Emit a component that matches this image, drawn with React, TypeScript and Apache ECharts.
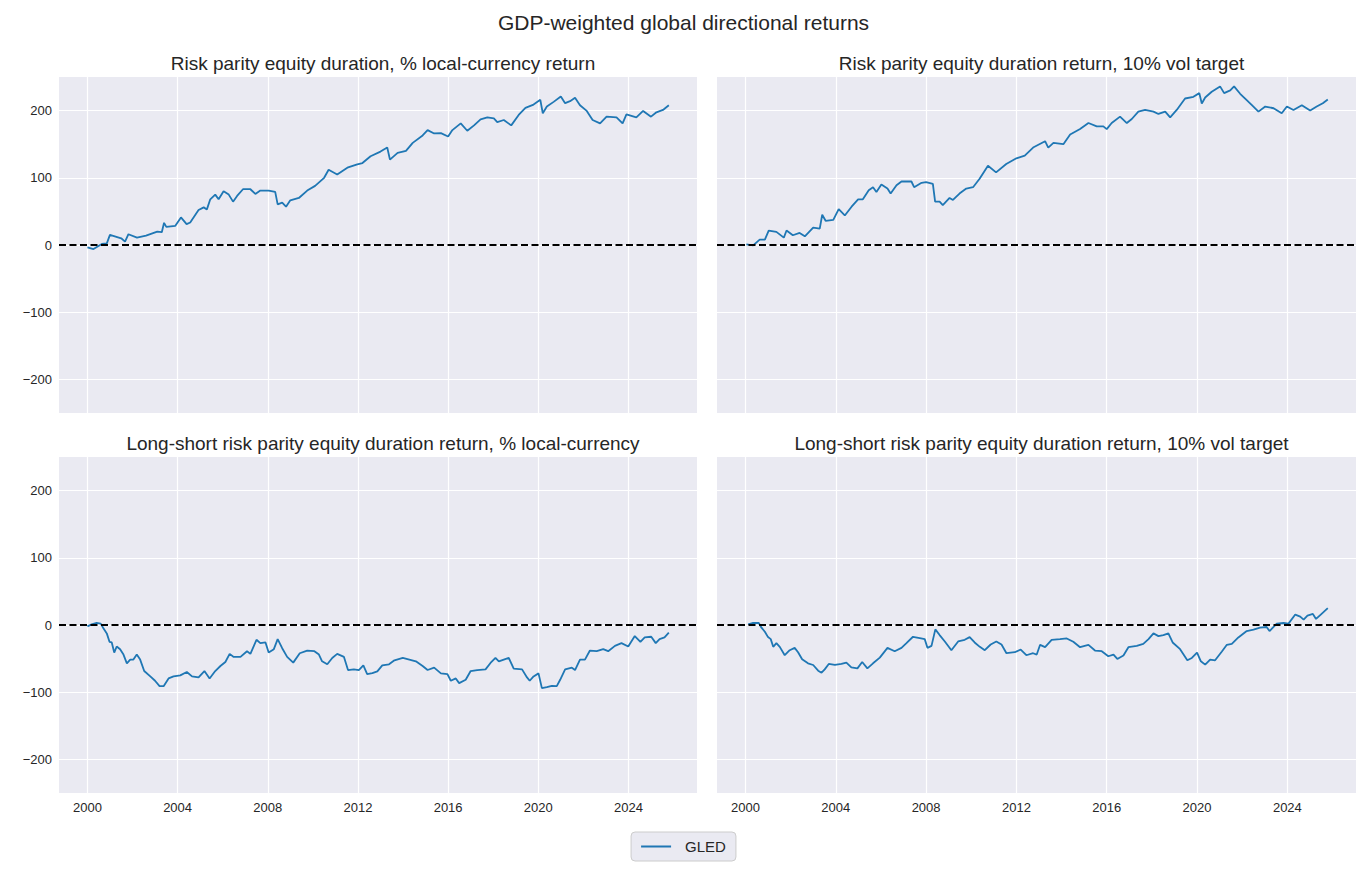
import React, { useEffect, useRef } from 'react';
import * as echarts from 'echarts';

// x axis: matplotlib auto-limits with 5% margins around 2000.0 .. 2025.8
const X_MIN = 1998.74;
const X_MAX = 2027.04;
const X_TICKS = [2000, 2004, 2008, 2012, 2016, 2020, 2024];
const Y_TICKS = [-200, -100, 0, 100, 200];

const panelTitles = [
  'Risk parity equity duration, % local-currency return',
  'Risk parity equity duration return, 10% vol target',
  'Long-short risk parity equity duration return, % local-currency',
  'Long-short risk parity equity duration return, 10% vol target',
];

// top left: % local-currency return
const tlYears = [
  2000.0, 2000.27, 2000.64, 2000.86, 2001.0, 2001.5, 2001.67, 2001.82, 2002.2, 2002.6,
  2003.1, 2003.3, 2003.4, 2003.5, 2003.9, 2004.15, 2004.4, 2004.56, 2004.93, 2005.16,
  2005.3, 2005.45, 2005.67, 2005.82, 2006.04, 2006.27, 2006.46, 2006.64, 2006.9, 2007.23,
  2007.45, 2007.67, 2008.04, 2008.33, 2008.44, 2008.64, 2008.81, 2009.0, 2009.38, 2009.75,
  2010.1, 2010.5, 2010.7, 2011.08, 2011.53, 2011.97, 2012.2, 2012.56, 2013.0, 2013.3,
  2013.42, 2013.76, 2014.13, 2014.43, 2014.87, 2015.09, 2015.38, 2015.68, 2016.0, 2016.19,
  2016.56, 2016.85, 2017.15, 2017.44, 2017.74, 2018.03, 2018.18, 2018.47, 2018.8, 2019.13,
  2019.43, 2019.79, 2020.09, 2020.2, 2020.38, 2020.68, 2021.0, 2021.19, 2021.41, 2021.63,
  2021.85, 2022.15, 2022.41, 2022.74, 2023.03, 2023.47, 2023.74, 2023.91, 2024.35, 2024.65,
  2025.0, 2025.24, 2025.53, 2025.79,
];
const tlValues = [
  -3.5, -6, 1.5, 2.5, 15, 10, 5, 16, 11, 14,
  20, 19, 33, 27, 28.5, 41, 31, 33.5, 52, 56,
  53, 68, 75, 68, 80, 75, 64.5, 73, 83, 83,
  76, 81, 81, 79, 60.5, 63, 57, 66.5, 70, 81,
  88, 100, 112, 105, 115, 120, 122, 132, 139, 145,
  127, 137, 140, 152, 163, 171, 166, 166.5, 161.5, 171,
  181, 170, 178, 187, 190, 188.5, 183, 186, 178, 193.5,
  204, 209, 216, 196, 206, 213, 221, 211, 214, 219,
  208, 199.5, 186, 181, 191, 190, 181, 194.5, 190, 199.5,
  191, 197.5, 201, 208,
];

// top right: 10% vol target
const trYears = [
  2000.04, 2000.34, 2000.63, 2000.86, 2001.03, 2001.37, 2001.7, 2001.82, 2002.1, 2002.4,
  2002.63, 2003.0, 2003.29, 2003.4, 2003.55, 2003.89, 2004.13, 2004.4, 2004.7, 2004.99,
  2005.2, 2005.46, 2005.65, 2005.8, 2006.02, 2006.29, 2006.43, 2006.69, 2006.91, 2007.35,
  2007.47, 2007.8, 2008.0, 2008.3, 2008.4, 2008.6, 2008.74, 2009.04, 2009.19, 2009.48,
  2009.78, 2010.08, 2010.37, 2010.74, 2011.1, 2011.55, 2012.0, 2012.37, 2012.74, 2013.27,
  2013.41, 2013.64, 2014.08, 2014.38, 2014.82, 2015.19, 2015.56, 2015.85, 2016.0, 2016.22,
  2016.59, 2016.89, 2017.11, 2017.4, 2017.7, 2018.07, 2018.29, 2018.59, 2018.81, 2019.1,
  2019.47, 2019.84, 2020.1, 2020.21, 2020.36, 2020.65, 2021.02, 2021.2, 2021.47, 2021.64,
  2021.91, 2022.2, 2022.43, 2022.72, 2023.02, 2023.39, 2023.75, 2023.98, 2024.27, 2024.64,
  2025.01, 2025.3, 2025.57, 2025.79,
];
const trValues = [
  1, -0.5, 8, 8, 21.5, 19.5, 11, 21.5, 14.5, 18,
  13, 26, 24.5, 45, 36, 37.5, 53.5, 44, 57, 68,
  68, 81.5, 86, 79, 90, 84, 76.5, 89, 94.5, 94.5,
  86, 92.5, 93.5, 91, 64.5, 64.5, 59.5, 70, 67, 76.5,
  84, 86, 98.5, 118, 108, 120.5, 129, 133, 145, 154.5,
  145, 152, 150, 164.5, 172.5, 181.5, 176.5, 176.5, 172.5, 181.5,
  191, 181.5, 187.5, 198.5, 201, 198.5, 195, 198.5, 190, 201,
  218, 220.5, 226, 210.5, 219.5, 228, 236, 226, 230, 236,
  225, 215.5, 208, 198.5, 206, 203.5, 196, 206, 201, 208,
  200, 206, 211, 216.5,
];

// bottom left: long-short, % local-currency
const blYears = [
  2000.0, 2000.19, 2000.41, 2000.59, 2000.71, 2000.86, 2000.98, 2001.08, 2001.19, 2001.3,
  2001.45, 2001.6, 2001.75, 2001.9, 2002.04, 2002.19, 2002.34, 2002.52, 2002.79, 2003.0,
  2003.2, 2003.38, 2003.6, 2003.82, 2004.12, 2004.41, 2004.64, 2004.93, 2005.19, 2005.42,
  2005.67, 2005.9, 2006.12, 2006.31, 2006.49, 2006.79, 2007.08, 2007.23, 2007.5, 2007.67,
  2007.9, 2008.04, 2008.27, 2008.44, 2008.64, 2008.86, 2009.13, 2009.42, 2009.75, 2010.07,
  2010.27, 2010.41, 2010.64, 2010.86, 2011.08, 2011.38, 2011.56, 2011.82, 2012.04, 2012.24,
  2012.41, 2012.64, 2012.86, 2013.08, 2013.38, 2013.62, 2013.99, 2014.28, 2014.57, 2014.87,
  2015.09, 2015.38, 2015.68, 2015.97, 2016.12, 2016.34, 2016.49, 2016.78, 2017.0, 2017.29,
  2017.66, 2017.88, 2018.1, 2018.25, 2018.47, 2018.69, 2018.91, 2019.28, 2019.5, 2019.62,
  2019.79, 2020.01, 2020.16, 2020.38, 2020.6, 2020.82, 2020.97, 2021.19, 2021.49, 2021.63,
  2021.85, 2022.07, 2022.29, 2022.59, 2022.88, 2023.1, 2023.4, 2023.69, 2023.99, 2024.28,
  2024.53, 2024.72, 2025.01, 2025.21, 2025.38, 2025.6, 2025.79,
];
const blValues = [
  -2, 1, 3, 2, -5, -12.5, -25, -26, -41, -32,
  -36, -44, -57, -51.5, -51.5, -44, -51.5, -68.5, -76.5, -83,
  -91, -91, -79.5, -76.5, -75, -70, -76.5, -78, -68.5, -79.5,
  -68.5, -61, -55, -43, -47.5, -47.5, -39, -43, -22, -27,
  -26, -41, -36, -21, -34.5, -47.5, -56, -42, -38, -39,
  -44, -54, -58.5, -49, -43, -47.5, -67, -66, -67, -60,
  -73, -71.5, -69, -60, -58.5, -52.5, -49, -51.5, -54, -61,
  -67, -63.5, -72, -73, -83, -79.5, -86.5, -81.5, -68.5, -67,
  -66, -56.5, -49, -54, -51.5, -49, -65, -66, -78, -83,
  -76.5, -72, -94, -92.5, -90.5, -91, -81.5, -66, -63.5, -67,
  -51.5, -51.5, -38, -39, -36, -39, -31, -27, -32, -16.5,
  -25, -18.5, -17.5, -27, -21, -18.5, -11.5,
];

// bottom right: long-short, 10% vol target
const brYears = [
  2000.12, 2000.34, 2000.59, 2000.71, 2000.86, 2001.0, 2001.12, 2001.23, 2001.37, 2001.52,
  2001.74, 2001.96, 2002.18, 2002.33, 2002.51, 2002.77, 2003.0, 2003.22, 2003.37, 2003.51,
  2003.69, 2003.96, 2004.25, 2004.47, 2004.69, 2004.96, 2005.17, 2005.4, 2005.65, 2005.95,
  2006.29, 2006.61, 2006.91, 2007.13, 2007.42, 2007.72, 2007.94, 2008.06, 2008.24, 2008.41,
  2008.6, 2008.83, 2009.12, 2009.42, 2009.71, 2009.93, 2010.15, 2010.38, 2010.6, 2010.86,
  2011.11, 2011.34, 2011.56, 2011.93, 2012.19, 2012.44, 2012.74, 2012.9, 2013.05, 2013.27,
  2013.56, 2013.93, 2014.23, 2014.52, 2014.82, 2015.19, 2015.48, 2015.78, 2016.07, 2016.3,
  2016.47, 2016.74, 2016.96, 2017.33, 2017.62, 2017.85, 2018.07, 2018.29, 2018.51, 2018.73,
  2018.92, 2019.25, 2019.57, 2019.77, 2020.0, 2020.17, 2020.36, 2020.58, 2020.8, 2021.1,
  2021.32, 2021.54, 2021.83, 2022.2, 2022.5, 2022.79, 2023.08, 2023.21, 2023.53, 2023.83,
  2024.05, 2024.35, 2024.57, 2024.72, 2024.89, 2025.13, 2025.27, 2025.48, 2025.79,
];
const brValues = [
  1, 3, 3, -4, -10, -18, -21, -32.5, -27, -32.5,
  -45, -37.5, -34, -40.5, -51, -57, -59.5, -68, -71, -66,
  -58, -59.5, -58, -56, -63, -64.5, -55, -64.5, -57, -48.5,
  -34, -39, -34, -27, -17.5, -19.5, -21, -34, -31, -6.5,
  -15, -24.5, -37.5, -24.5, -22, -18, -26, -32.5, -37.5, -29,
  -24.5, -29, -42, -40.5, -36.5, -45, -42, -44, -29.5, -33,
  -22, -21, -20, -25, -33, -29.5, -38, -39, -46.5, -44,
  -50.5, -45.5, -33, -31, -28, -21, -12.5, -16.5, -15, -12.5,
  -26, -36, -52.5, -49, -41, -54, -59, -51.5, -52.5, -39.5,
  -29.5, -28, -18.5, -9, -7, -4, -3, -9, 2, 3,
  2, 15.5, 12.5, 8, 14, 16.5, 9, 15.5, 25,
];

const TEXT = '#262626';
const FONT = '"Liberation Sans", Arial, Helvetica, sans-serif';
const LINE_BLUE = '#1f77b4';

// panel rectangles in px: [left, top, width, height]
const panels = [
  [59, 77, 638, 336],
  [717, 77, 639, 336],
  [59, 457, 638, 336],
  [717, 457, 639, 336],
];

const zip = (xs: number[], ys: number[]) => xs.map((x, i) => [x, ys[i]]);

export default function App() {
  const chartRef = useRef<HTMLDivElement>(null);

  useEffect(() => {
    if (!chartRef.current) return;
    document.body.style.margin = '0';
    const chart = echarts.init(chartRef.current, null, { renderer: 'svg' });

    const seriesData = [
      zip(tlYears, tlValues),
      zip(trYears, trValues),
      zip(blYears, blValues),
      zip(brYears, brValues),
    ];

    const titles: any[] = [
      {
        text: 'GDP-weighted global directional returns',
        left: 'center',
        top: 7,
        textStyle: { fontFamily: FONT, fontSize: 21, fontWeight: 'normal', color: TEXT },
      },
      ...panels.map((p, i) => ({
        text: panelTitles[i],
        left: p[0] + p[2] / 2,
        top: p[1] - 28,
        textAlign: 'center',
        textStyle: { fontFamily: FONT, fontSize: 19, fontWeight: 'normal', color: TEXT },
      })),
    ];

    const option = {
      animation: false,
      backgroundColor: '#ffffff',
      title: titles,
      legend: {
        data: ['GLED'],
        left: 'center',
        top: 832,
        icon: 'rect',
        itemWidth: 30,
        itemHeight: 2,
        backgroundColor: '#eaeaf2',
        borderColor: '#cccccc',
        borderWidth: 1,
        borderRadius: 4,
        padding: [7, 10],
        textStyle: {
          fontFamily: FONT,
          fontSize: 15,
          color: TEXT,
          padding: [0, 0, 0, 9],
          lineHeight: 15,
        },
      },
      grid: panels.map((p) => ({
        left: p[0],
        top: p[1],
        width: p[2],
        height: p[3],
        show: true,
        backgroundColor: '#eaeaf2',
        borderWidth: 0,
        containLabel: false,
      })),
      xAxis: panels.map((_, i) => ({
        type: 'value',
        gridIndex: i,
        min: X_MIN,
        max: X_MAX,
        axisLine: { show: false },
        axisTick: { show: false, customValues: X_TICKS },
        axisLabel: {
          show: i >= 2,
          customValues: X_TICKS,
          color: TEXT,
          fontFamily: FONT,
          fontSize: 13,
          margin: 8,
          formatter: (v: number) => String(v),
        },
        splitLine: { show: true, lineStyle: { color: '#ffffff', width: 1.2 } },
      })),
      yAxis: panels.map((_, i) => ({
        type: 'value',
        gridIndex: i,
        min: -250,
        max: 250,
        axisLine: { show: false },
        axisTick: { show: false, customValues: Y_TICKS },
        axisLabel: {
          show: i === 0 || i === 2,
          customValues: Y_TICKS,
          color: TEXT,
          fontFamily: FONT,
          fontSize: 13,
          margin: 7,
          formatter: (v: number) => (v < 0 ? '\u2212' + Math.abs(v) : String(v)),
        },
        splitLine: { show: true, lineStyle: { color: '#ffffff', width: 1.2 } },
      })),
      series: seriesData.map((d, i) => ({
        name: 'GLED',
        type: 'line',
        xAxisIndex: i,
        yAxisIndex: i,
        data: d,
        symbol: 'none',
        showSymbol: false,
        color: LINE_BLUE,
        lineStyle: { color: LINE_BLUE, width: 1.8 },
        markLine: {
          silent: true,
          symbol: ['none', 'none'],
          label: { show: false },
          lineStyle: { color: '#000000', type: [7, 3.5], width: 1.8 },
          data: [{ yAxis: 0 }],
        },
      })),
    };

    chart.setOption(option);

    const handleResize = () => chart.resize();
    window.addEventListener('resize', handleResize);
    return () => {
      window.removeEventListener('resize', handleResize);
      chart.dispose();
    };
  }, []);

  return <div ref={chartRef} style={{ width: '1367px', height: '870px' }} />;
}
